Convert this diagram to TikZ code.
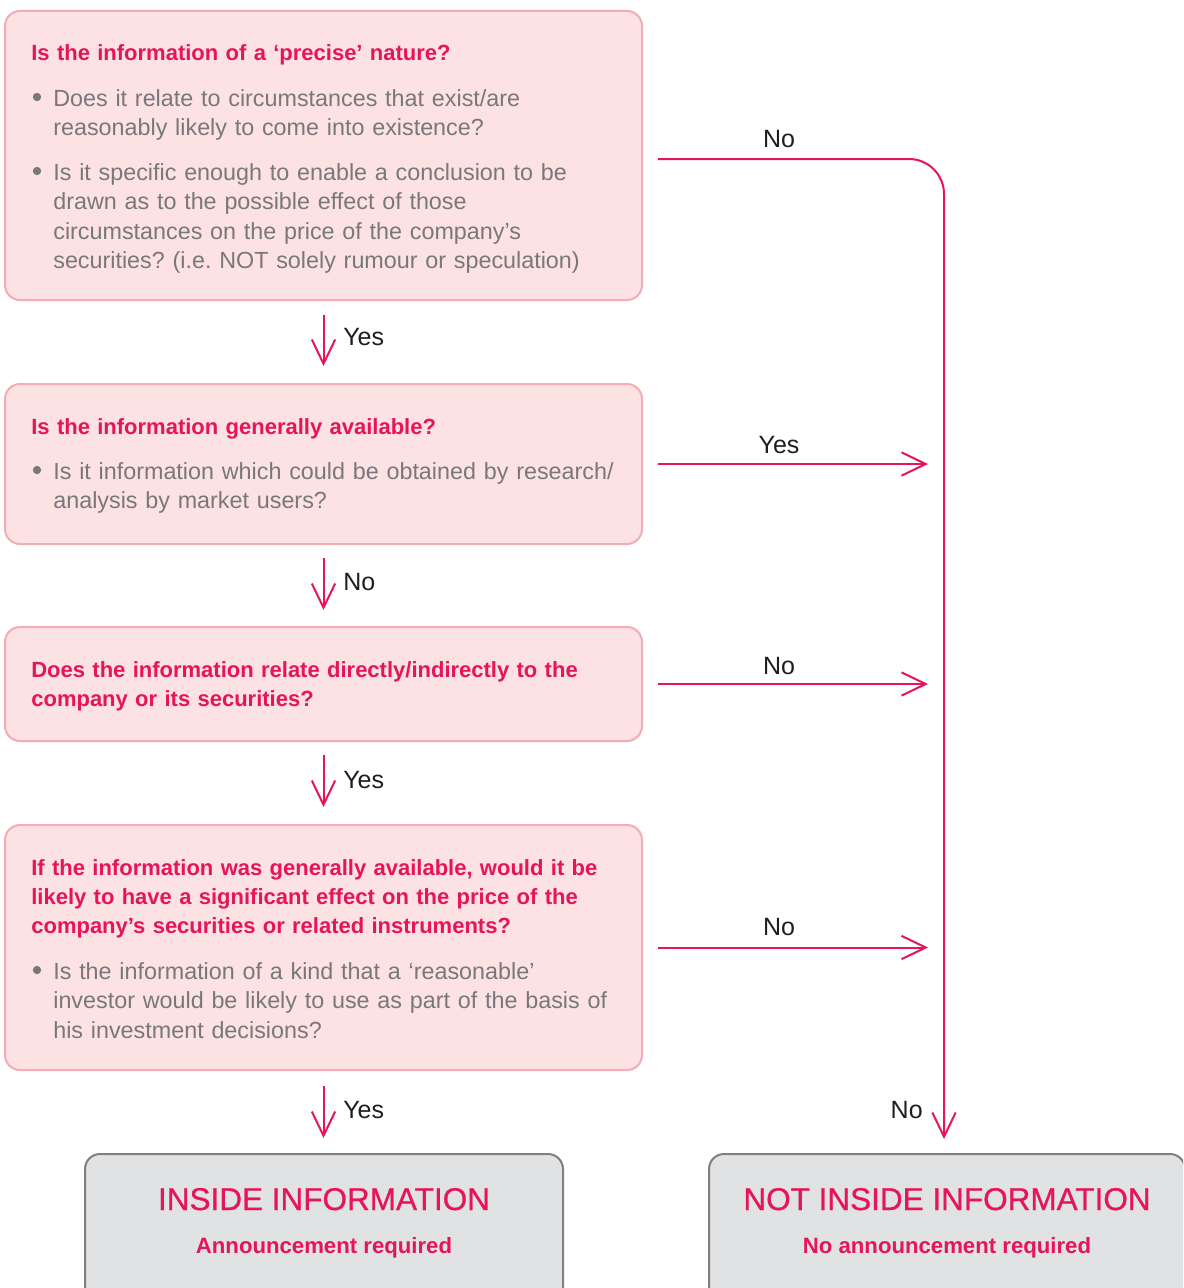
\documentclass[tikz,border=0pt]{standalone}
\usepackage{fontspec}
\setmainfont{Liberation Sans}
\newfontfamily\medfont[FakeBold=0.7]{Liberation Sans}
\usetikzlibrary{arrows.meta}
\definecolor{pk}{RGB}{230,20,90}
\definecolor{boxfill}{RGB}{253,226,228}
\definecolor{boxline}{RGB}{245,172,180}
\definecolor{txtgray}{RGB}{120,120,122}
\definecolor{gfill}{RGB}{225,226,228}
\definecolor{gline}{RGB}{128,128,128}
\definecolor{lblc}{RGB}{30,30,30}
\begin{document}
\frenchspacing
\begin{tikzpicture}[x=0.6pt,y=-0.6pt,
  qbox/.style={draw=boxline, fill=boxfill, line width=1.2pt, rounded corners=9pt,
    minimum width=382.2pt, inner sep=0pt},
  rbox/.style={draw=gline, fill=gfill, line width=1.2pt, rounded corners=9pt,
    minimum height=99.6pt, inner sep=0pt},
  head/.style={font=\fontsize{13.2}{17.5}\selectfont\bfseries\frenchspacing, text=pk, anchor=base west,
    inner sep=0pt, text width=370pt, align=left},
  body/.style={font=\fontsize{14.0}{17.7}\selectfont\frenchspacing, text=txtgray, anchor=base west,
    inner sep=0pt, text width=360pt, align=left},
  dot/.style={fill=txtgray},
  big/.style={font=\medfont\fontsize{18.9}{22}\selectfont, text=pk, anchor=base, inner sep=0pt},
  sub/.style={font=\fontsize{13.3}{16}\selectfont\bfseries, text=pk, anchor=base, inner sep=0pt},
  lbl/.style={font=\fontsize{15}{18}\selectfont, text=lblc, inner sep=0pt},
  arr/.style={draw=pk, line width=1.2pt, -{Straight Barb[length=14.5pt,width=14pt]}},
]
\clip (0,0) rectangle (1183,1288);
\fill[white] (0,0) rectangle (1183,1288);

% ---- box 1
\node[qbox, minimum height=173.4pt] (b1) at (323.5,155.5) {};
\node[head] (h1) at (31,61) {Is the information of a ‘precise’ nature?};
\fill[dot] (37,97) circle (2.5pt);
\node[body] (t1a) at (53,106) {Does it relate to circumstances that exist/are\\reasonably likely to come into existence?};
\fill[dot] (37,171) circle (2.5pt);
\node[body] (t1b) at (53,180) {Is it specific enough to enable a conclusion to be\\drawn as to the possible effect of those\\circumstances on the price of the company’s\\securities? (i.e. NOT solely rumour or speculation)};

% ---- box 2
\node[qbox, minimum height=96pt] (b2) at (323.5,464) {};
\node[head] (h2) at (31,434) {Is the information generally available?};
\fill[dot] (37,470) circle (2.5pt);
\node[body] (t2a) at (53,479) {Is it information which could be obtained by research/\\analysis by market users?};

% ---- box 3
\node[qbox, minimum height=68.4pt] (b3) at (323.5,684) {};
\node[head] (h3) at (31,677) {Does the information relate directly/indirectly to the\\company or its securities?};

% ---- box 4
\node[qbox, minimum height=147pt] (b4) at (323.5,947.5) {};
\node[head] (h4) at (31,875) {If the information was generally available, would it be\\likely to have a significant effect on the price of the\\company’s securities or related instruments?};
\fill[dot] (37,970) circle (2.5pt);
\node[body] (t4a) at (53,979) {Is the information of a kind that a ‘reasonable’\\investor would be likely to use as part of the basis of\\his investment decisions?};

% ---- result boxes
\node[rbox, minimum width=286.8pt] (bl) at (324,1237) {};
\node[big] (bl1) at (324,1210) {INSIDE INFORMATION};
\node[sub] (bl2) at (324,1253) {Announcement required};
\node[rbox, minimum width=285.6pt] (br) at (947,1237) {};
\node[big] (br1) at (947,1210) {NOT INSIDE INFORMATION};
\node[sub] (br2) at (947,1253) {No announcement required};

% ---- down arrows
\draw[arr, shorten <=8.4pt, shorten >=10.2pt] (b1.south) -- (b2.north);
\draw[arr, shorten <=7.8pt, shorten >=9.6pt] (b2.south) -- (b3.north);
\draw[arr, shorten <=7.8pt, shorten >=10.2pt] (b3.south) -- (b4.north);
\draw[arr, shorten <=9pt, shorten >=9pt] (b4.south) -- (b4.south |- bl.north);

\node[lbl, anchor=base west] (y1) at (343,345) {Yes};
\node[lbl, anchor=base west] (n2) at (343,590) {No};
\node[lbl, anchor=base west] (y3) at (343,788) {Yes};
\node[lbl, anchor=base west] (y4) at (343,1118) {Yes};

% ---- right trunk
\coordinate (tr) at (944,159);
\coordinate (tb) at (944,1139);
\draw[arr, rounded corners=21pt] (b1.east |- tr) ++(9pt,0) -- (tr) -- (tb);
\draw[arr, shorten <=9pt, shorten >=9.6pt] (b2.east) -- (b2.east -| tr);
\draw[arr, shorten <=9pt, shorten >=9.6pt] (b3.east) -- (b3.east -| tr);
\draw[arr, shorten <=9pt, shorten >=9.6pt] (b4.east) -- (b4.east -| tr);

\node[lbl, anchor=base] (n1) at (779,148) {No};
\node[lbl, anchor=base] (y2) at (779,453) {Yes};
\node[lbl, anchor=base] (n3) at (779,674) {No};
\node[lbl, anchor=base] (n4) at (779,935) {No};
\node[lbl, anchor=base east] (n5) at (923,1118) {No};
\end{tikzpicture}
\end{document}
